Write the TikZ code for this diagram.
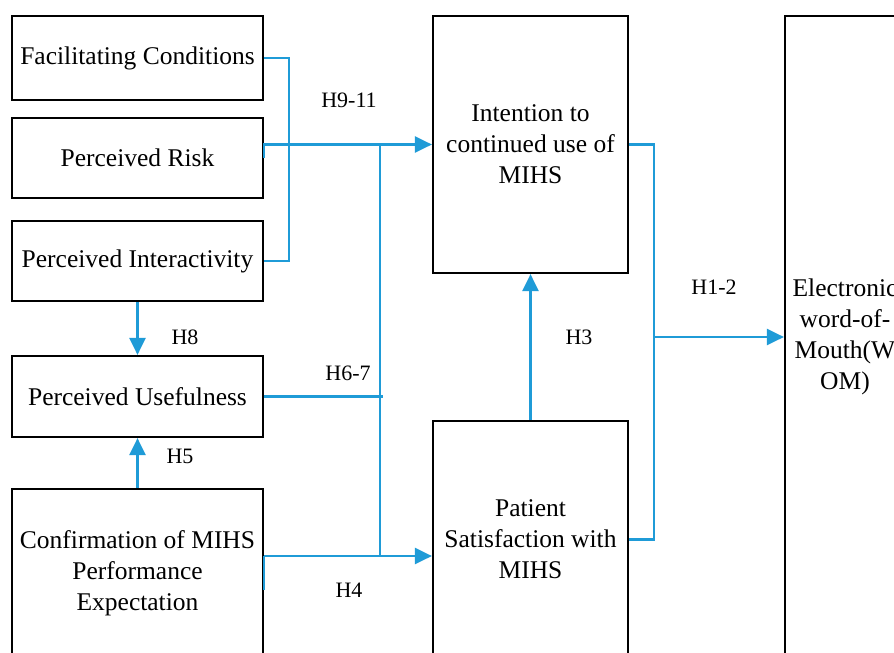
\documentclass[tikz,border=0pt]{standalone}
\usepackage{fontspec}
\setmainfont{Liberation Serif}
\usetikzlibrary{arrows.meta}
\definecolor{linkblue}{HTML}{1F9BD7}

\begin{document}
\begin{tikzpicture}[x=1pt, y=-1pt,
    box/.style={draw=black, line width=2.2pt, align=center, inner sep=0pt, font=\fontsize{25.5}{31}\selectfont},
    link/.style={linkblue, line width=2.5pt},
    arrow/.style={link, -{Triangle[length=17pt, width=16pt]}},
    hyp/.style={font=\fontsize{22}{25}\selectfont}]

\useasboundingbox (0,0) rectangle (894,653);
\clip (0,0) rectangle (894,653);

% ---------- Left column ----------
\node[box, minimum width=251pt, minimum height=84pt] (fc) at (137.5,58) {Facilitating Conditions};
\node[box, minimum width=251pt, minimum height=80pt] (pr) at (137.5,158) {Perceived Risk};
\node[box, minimum width=251pt, minimum height=80pt] (pi) at (137.5,261) {Perceived Interactivity};
\node[box, minimum width=251pt, minimum height=81pt] (pu) at (137.5,396.5) {Perceived Usefulness};
\node[box, minimum width=251pt, minimum height=168pt] (cme) at (137.5,573) {Confirmation of MIHS\\Performance\\Expectation};

% ---------- Middle column ----------
\node[box, minimum width=195pt, minimum height=257pt] (int) at (530.5,144.5) {Intention to\\continued use of\\MIHS};
\node[box, minimum width=195pt, minimum height=237pt] (ps) at (530.5,539.5) {Patient\\Satisfaction with\\MIHS};

% ---------- Right column ----------
\node[box, minimum width=120pt, minimum height=642pt] (ewom) at (845,337) {Electronic\\word-of-\\Mouth(W\\OM)};

% Junctions
\coordinate (j1) at (380,145);
\coordinate (j2) at (380,556);
\coordinate (j3) at (653,337);

% Connectors
\draw[link] (fc.east) -- ++(25,0) |- (pi.east);
\draw[arrow] (pr.east) |- (int.west);
\draw[link] (j1) -- (j2);
\draw[link] (pu.east) -- ([xshift=3pt]pu.east -| j1);
\draw[link] (cme.east) ++(0,17) -- (cme.east |- j2);
\draw[arrow] (cme.east |- j2) -- (ps.west |- j2);
\draw[arrow] (ps.north) -- (int.south);
\draw[link] (int.east) -- ++(25,0) |- (ps.east);
\draw[arrow] (j3) -- (ewom.west);
\draw[arrow] (pi.south) -- (pu.north);
\draw[arrow] (cme.north) -- (pu.south);

% Hypotheses
\node[hyp] (h911) at (349,100) {H9-11};
\node[hyp] (h8) at (185,337) {H8};
\node[hyp] (h67) at (348,373) {H6-7};
\node[hyp] (h5) at (180,456) {H5};
\node[hyp] (h4) at (349,590) {H4};
\node[hyp] (h3) at (579,337) {H3};
\node[hyp] (h12) at (714,287) {H1-2};

\end{tikzpicture}
\end{document}
